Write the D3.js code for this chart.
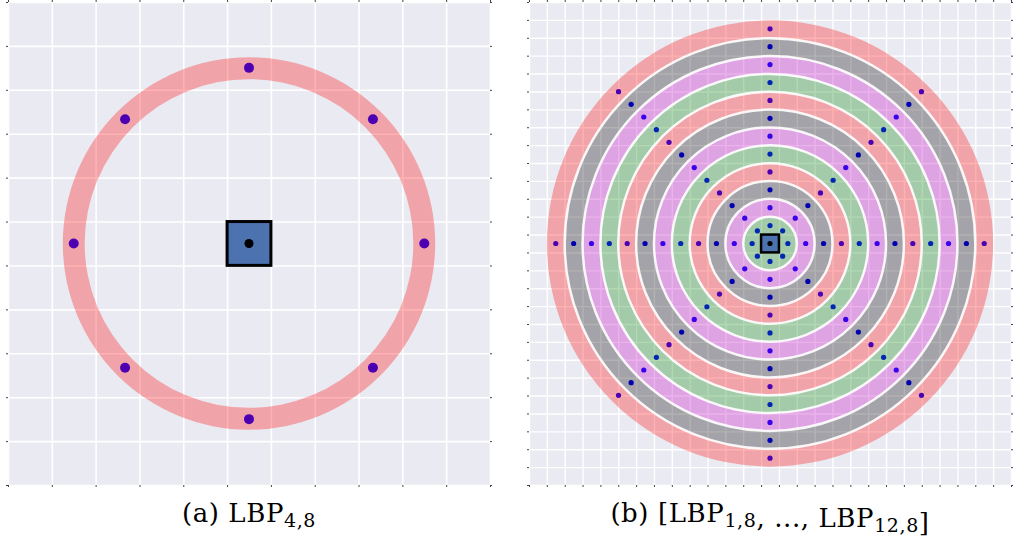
<!DOCTYPE html>
<html>
<head>
<meta charset="utf-8">
<script src="https://cdn.jsdelivr.net/npm/d3@7"></script>
<style>
body { margin: 0; background: #fff; }
</style>
</head>
<body>
<svg width="1014" height="539"></svg>
<script>
// sampling angles (degrees) of the 8 neighbours
var angles = [0, 45, 90, 135, 180, 225, 270, 315];

// panel (a): a single LBP ring
var radiusA = [4];
var colourA = ["#ff0000"];

// panel (b): LBP rings 1..12
var radiiB = [1, 2, 3, 4, 5, 6, 7, 8, 9, 10, 11, 12];
var coloursB = ["#008000", "#bf00bf", "#000000", "#ff0000",
                "#008000", "#bf00bf", "#000000", "#ff0000",
                "#008000", "#bf00bf", "#000000", "#ff0000"];

var captionA = ["(a) LBP", "4,8"];
var captionB = [["(b) [LBP", "1,8"], [", ..., LBP", "12,8"], ["]", ""]];

var svg = d3.select("svg");

function panel(opt) {
	var x = d3.scaleLinear().domain([-opt.half, opt.half]).range([opt.left, opt.right]),
		y = d3.scaleLinear().domain([-opt.half, opt.half]).range([opt.bottom, opt.top]),
		unit = x(1) - x(0),
		g = svg.append("g");

	var ticks = d3.range(-opt.half, opt.half + 0.01, 1);

	g.append("rect")
		.attr("x", opt.left).attr("y", opt.top)
		.attr("width", opt.right - opt.left)
		.attr("height", opt.bottom - opt.top)
		.attr("fill", "#eaeaf2");

	// grid lines
	g.append("g").attr("transform", "translate(0," + opt.bottom + ")")
		.call(d3.axisBottom(x).tickValues(ticks).tickSize(-(opt.bottom - opt.top)).tickFormat(""))
		.call(function(a) {
			a.select(".domain").remove();
			a.selectAll("line").attr("stroke", "#fff").attr("stroke-width", opt.grid);
		});
	g.append("g").attr("transform", "translate(" + opt.left + ",0)")
		.call(d3.axisLeft(y).tickValues(ticks).tickSize(-(opt.right - opt.left)).tickFormat(""))
		.call(function(a) {
			a.select(".domain").remove();
			a.selectAll("line").attr("stroke", "#fff").attr("stroke-width", opt.grid);
		});

	// tiny tick marks on all four sides
	[[d3.axisBottom(x), "translate(0," + opt.bottom + ")"],
	 [d3.axisTop(x), "translate(0," + opt.top + ")"],
	 [d3.axisLeft(y), "translate(" + opt.left + ",0)"],
	 [d3.axisRight(y), "translate(" + opt.right + ",0)"]].forEach(function(p) {
		g.append("g").attr("transform", p[1])
			.call(p[0].tickValues(ticks).tickSize(2).tickFormat(""))
			.call(function(a) {
				a.select(".domain").remove();
				a.selectAll("line").attr("stroke", "#444").attr("stroke-width", 1);
			});
	});

	// sample points (under the rings)
	var pts = [];
	opt.radii.forEach(function(r) {
		angles.forEach(function(a) {
			var t = a * Math.PI / 180;
			pts.push([r * Math.cos(t), r * Math.sin(t)]);
		});
	});
	g.selectAll(".pt").data(pts).enter().append("circle")
		.attr("cx", function(d) { return x(d[0]); })
		.attr("cy", function(d) { return y(d[1]); })
		.attr("r", opt.dot)
		.attr("fill", "#0000ff");

	// rings
	var arc = d3.arc().startAngle(0).endAngle(2 * Math.PI);
	g.selectAll(".ring").data(opt.radii).enter().append("path")
		.attr("transform", "translate(" + x(0) + "," + y(0) + ")")
		.attr("d", function(r) {
			return arc({innerRadius: (r - opt.band) * unit, outerRadius: (r + opt.band) * unit});
		})
		.attr("fill", function(d, i) { return opt.colours[i]; })
		.attr("fill-opacity", 0.3);

	// white separators between rings
	if (opt.sep) {
		g.selectAll(".sep").data(opt.radii.slice(1)).enter().append("circle")
			.attr("cx", x(0)).attr("cy", y(0))
			.attr("r", function(r) { return (r - 0.5) * unit; })
			.attr("fill", "none")
			.attr("stroke", "#fff")
			.attr("stroke-opacity", 0.9)
			.attr("stroke-width", opt.sep);
	}

	// centre pixel
	g.append("rect")
		.attr("x", x(-0.5)).attr("y", y(0.5))
		.attr("width", unit).attr("height", unit)
		.attr("fill", "#4c72b0")
		.attr("stroke", "#000")
		.attr("stroke-width", opt.box);
	g.append("circle")
		.attr("cx", x(0)).attr("cy", y(0))
		.attr("r", opt.centre)
		.attr("fill", "#000");

	// caption
	var txt = svg.append("text")
		.attr("x", x(0)).attr("y", 522)
		.attr("text-anchor", "middle")
		.attr("font-family", "DejaVu Serif, serif")
		.attr("font-size", 26)
		.attr("letter-spacing", 0.6)
		.attr("fill", "#000");
	opt.caption.forEach(function(c) {
		txt.append("tspan").text(c[0]);
		if (c[1]) txt.append("tspan").attr("font-size", 19).attr("dy", 5).text(c[1]);
		if (c[1]) txt.append("tspan").attr("dy", -5).text("");
	});
}

panel({left: 8, right: 490, top: 2, bottom: 485, half: 5.5,
	radii: radiusA, colours: colourA, band: 0.25, sep: 0,
	dot: 5, centre: 4.5, box: 3, grid: 1.6, caption: [captionA]});

panel({left: 529, right: 1011, top: 2, bottom: 485, half: 13.5,
	radii: radiiB, colours: coloursB, band: 0.5, sep: 2.5,
	dot: 2.6, centre: 2.6, box: 2.5, grid: 1.4, caption: captionB});
</script>
</body>
</html>
